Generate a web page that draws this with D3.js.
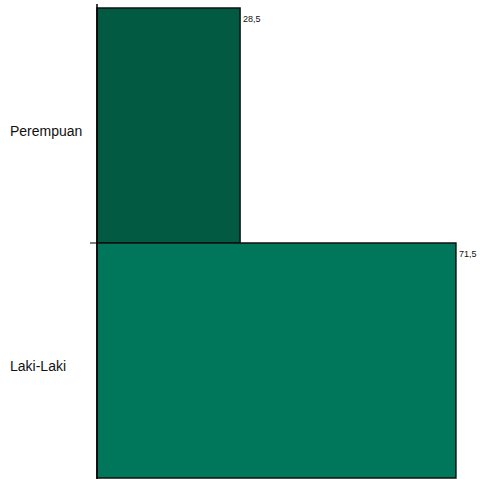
<!DOCTYPE html>
<html><head><meta charset="utf-8">
<script src="https://cdn.jsdelivr.net/npm/d3@7"></script>
<style>body{margin:0;background:#fff}svg{display:block}</style>
</head><body>
<script>
const categories = ["Perempuan", "Laki-Laki"];
const values = [28.5, 71.5];
const valueLabels = ["28,5", "71,5"];
const colors = ["#035a43", "#00765a"];

const W = 484, H = 479;
const svg = d3.select("body").append("svg").attr("width", W).attr("height", H);

const x = d3.scaleLinear().domain([0, 100]).range([97, 599]);
const y = d3.scaleBand().domain(categories).range([8, 478]).padding(0);

svg.selectAll("rect.bar").data(values).join("rect")
  .attr("class", "bar")
  .attr("x", x(0))
  .attr("y", (d, i) => y(categories[i]))
  .attr("width", d => x(d) - x(0))
  .attr("height", y.bandwidth())
  .attr("fill", (d, i) => colors[i])
  .attr("stroke", "#111")
  .attr("stroke-width", 1.5);

// axis line
svg.append("line").attr("x1", x(0)).attr("x2", x(0)).attr("y1", 4).attr("y2", H)
  .attr("stroke", "#000").attr("stroke-width", 1.5);
// tick between categories
svg.append("line").attr("x1", x(0) - 7).attr("x2", x(0))
  .attr("y1", y(categories[1])).attr("y2", y(categories[1]))
  .attr("stroke", "#000").attr("stroke-width", 1);

svg.selectAll("text.cat").data(categories).join("text")
  .attr("class", "cat")
  .attr("x", 10)
  .attr("y", d => y(d) + y.bandwidth() / 2 + 10)
  .attr("font-family", "Liberation Sans, Arial, sans-serif")
  .attr("font-size", 14)
  .attr("fill", "#111")
  .text(d => d);

svg.selectAll("text.val").data(values).join("text")
  .attr("class", "val")
  .attr("x", d => x(d) + 3)
  .attr("y", (d, i) => y(categories[i]) + 14)
  .attr("font-family", "Liberation Sans, Arial, sans-serif")
  .attr("font-size", 9)
  .attr("fill", "#111")
  .text((d, i) => valueLabels[i]);
</script>
</body></html>
